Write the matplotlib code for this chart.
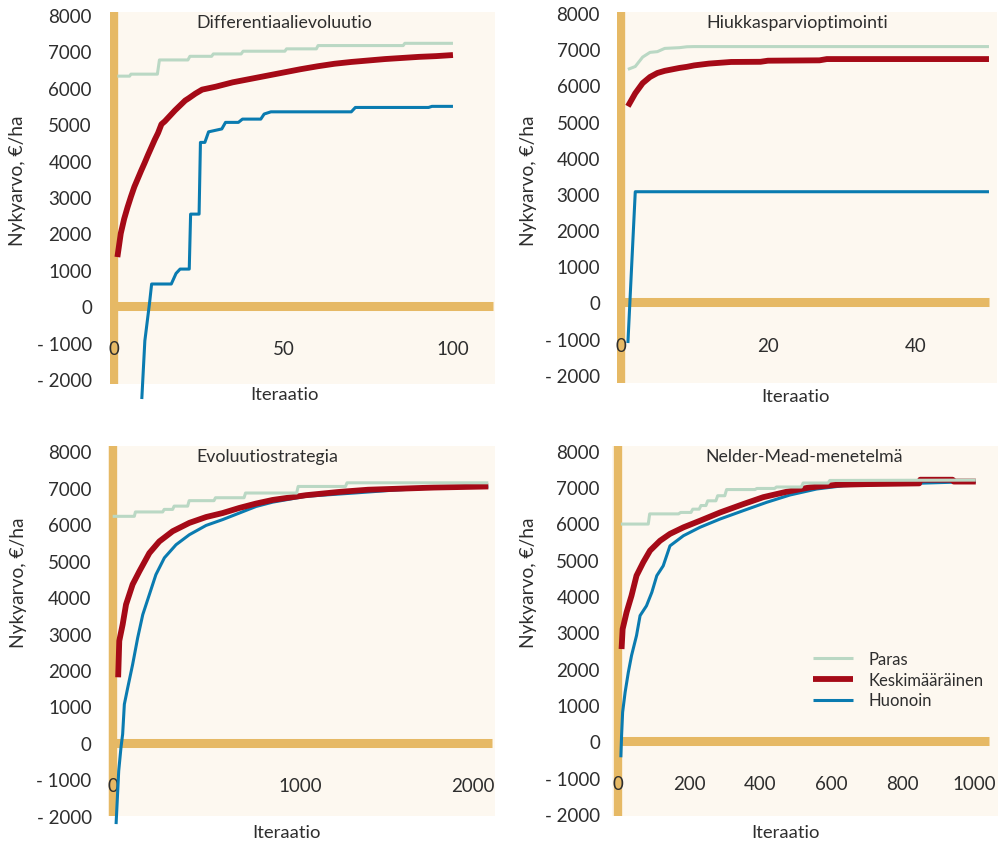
import matplotlib
matplotlib.use("Agg")
import matplotlib.pyplot as plt
import matplotlib.transforms as mtransforms

# ---------------- data ----------------
series_names = ["Paras", "Keskimääräinen", "Huonoin"]
panel_titles = ["Differentiaalievoluutio", "Hiukkasparvioptimointi",
                "Evoluutiostrategia", "Nelder-Mead-menetelmä"]
y_ticks = [-2000, -1000, 0, 1000, 2000, 3000, 4000, 5000, 6000, 7000, 8000]
y_ticklabels = ["- 2000", "- 1000", "0", "1000", "2000", "3000", "4000",
                "5000", "6000", "7000", "8000"]
x_ticks = [[0, 50, 100], [0, 20, 40], [0, 1000, 2000], [0, 200, 400, 600, 800, 1000]]

# Differentiaalievoluutio
de_best_x = [1, 4.6, 5, 12.8, 13.4, 21.8, 22.4, 28.8, 29.3, 37.5, 38.1, 50.4, 50.9, 59.7, 60.2, 85.3, 85.8, 100]
de_best_y = [6320, 6320, 6375, 6375, 6765, 6765, 6865, 6865, 6930, 6930, 7005, 7005, 7070, 7070, 7160, 7160, 7222, 7222]
de_mean_x = [1, 2, 3, 4, 5, 6, 7, 8, 9, 10, 11, 12, 13, 14, 15, 16, 18, 20, 21, 22, 24, 26, 28, 30,
             35, 40, 45, 50, 55, 60, 65, 70, 75, 80, 85, 90, 95, 100]
de_mean_y = [1350, 2000, 2400, 2720, 3010, 3280, 3500, 3720, 3930, 4150, 4360, 4570, 4760, 5000, 5080,
             5180, 5380, 5560, 5650, 5710, 5840, 5950, 5990, 6030, 6150, 6240, 6330, 6420, 6510,
             6590, 6660, 6710, 6750, 6790, 6820, 6850, 6870, 6900]
de_worst_x = [8.2, 9.1, 10.5, 11.1, 16.9, 18.3, 19.5, 22.2, 22.6, 25.1, 25.5, 26.8, 27.9, 31.8, 32.9,
              36.7, 37.9, 43.3, 44.3, 46.3, 70, 71.2, 92.8, 93.8, 100]
de_worst_y = [-2550, -950, 100, 610, 610, 900, 1020, 1020, 2530, 2530, 4500, 4500, 4790, 4870, 5050,
              5050, 5140, 5140, 5280, 5340, 5340, 5460, 5460, 5490, 5490]

# Hiukkasparvioptimointi
pso_best_x = [1, 2, 3, 4, 5, 6, 7, 8, 9, 10, 50]
pso_best_y = [6440, 6520, 6780, 6910, 6930, 7020, 7030, 7040, 7065, 7070, 7070]
pso_mean_x = [1, 2, 3, 4, 5, 6, 7, 8, 9, 10, 11, 12, 13, 14, 15, 19, 20, 27, 28, 50]
pso_mean_y = [5420, 5780, 6060, 6230, 6340, 6400, 6440, 6480, 6510, 6550, 6575, 6600, 6615, 6630,
              6645, 6650, 6680, 6690, 6725, 6725]
pso_worst_x = [1, 2, 50]
pso_worst_y = [-1120, 3060, 3060]

# Evoluutiostrategia
es_best_x = [1, 116, 122, 267, 275, 320, 328, 400, 408, 540, 548, 700, 708, 980, 988, 1240, 1248, 2000]
es_best_y = [6220, 6220, 6340, 6340, 6410, 6410, 6500, 6500, 6650, 6650, 6730, 6730, 6860, 6860,
             7040, 7040, 7140, 7140]
es_mean_x = [30, 36, 54, 72, 107, 143, 196, 249, 320, 409, 498, 586, 675, 764, 853, 1030, 1207,
             1360, 1710, 2000]
es_mean_y = [1800, 2800, 3250, 3800, 4350, 4710, 5210, 5530, 5810, 6040, 6200, 6310, 6450, 6570,
             6670, 6800, 6890, 6950, 7010, 7040]
es_worst_x = [19, 33, 45, 54, 63, 81, 107, 134, 161, 196, 231, 276, 338, 409, 498, 586, 675, 764,
              853, 1030, 1287, 1500, 1714, 2000]
es_worst_y = [-2230, -770, -130, 240, 1060, 1515, 2150, 2885, 3520, 4070, 4620, 5080, 5440, 5715,
              5970, 6130, 6310, 6490, 6610, 6770, 6860, 6940, 7000, 7030]

# Nelder-Mead-menetelmä
nm_best_x = [8, 85, 89, 170, 176, 205, 210, 228, 233, 247, 252, 275, 280, 300, 305, 385, 390, 440,
             445, 515, 520, 590, 595, 1005]
nm_best_y = [5980, 5980, 6260, 6260, 6300, 6300, 6390, 6390, 6490, 6490, 6620, 6620, 6760, 6760,
             6930, 6930, 6960, 6960, 7000, 7000, 7110, 7110, 7180, 7190]
nm_mean_x = [10, 13, 24, 38, 52, 71, 90, 118, 146, 184, 230, 287, 352, 408, 474, 539, 614, 700,
             846, 849, 940, 943, 1005]
nm_mean_y = [2540, 3090, 3550, 4010, 4560, 4930, 5250, 5520, 5710, 5890, 6070, 6300, 6530, 6720,
             6870, 6990, 7060, 7080, 7100, 7200, 7200, 7150, 7150]
nm_worst_x = [8, 10, 13, 20, 29, 38, 52, 62, 80, 95, 109, 127, 146, 184, 230, 287, 352, 418, 483,
              558, 633, 764, 900, 1005]
nm_worst_y = [-440, 150, 800, 1350, 1900, 2360, 2910, 3460, 3730, 4100, 4560, 4830, 5380, 5660,
              5890, 6120, 6350, 6580, 6780, 6945, 7035, 7080, 7120, 7150]

panels = [
    [(de_best_x, de_best_y), (de_mean_x, de_mean_y), (de_worst_x, de_worst_y)],
    [(pso_best_x, pso_best_y), (pso_mean_x, pso_mean_y), (pso_worst_x, pso_worst_y)],
    [(es_best_x, es_best_y), (es_mean_x, es_mean_y), (es_worst_x, es_worst_y)],
    [(nm_best_x, nm_best_y), (nm_mean_x, nm_mean_y), (nm_worst_x, nm_worst_y)],
]

# ---------------- style ----------------
plt.rcParams['font.family'] = ['Lato', 'DejaVu Sans']
TXT = "#2e2e2e"
ORANGE = "#E6B965"
BG = "#FDF8F0"
COLORS = ["#BAD8C4", "#A50A17", "#0A7BB0"]
WIDTHS = [2.2, 4.2, 2.2]
ZORDERS = [5, 4, 3]

W, H = 999, 845
fig = plt.figure(figsize=(W / 100, H / 100), dpi=100)
fig.patch.set_facecolor("white")

# pixel boxes: left, right, top, bottom
boxes = [(110, 495, 13.3, 385), (616.7, 997, 13.3, 384),
         (108.3, 495, 446.7, 816.7), (611.7, 998, 446.7, 817.3)]
xlims = [(-1.18, 112.4), (-0.52, 51.09), (-22.4, 2035.6), (-17.7, 1067.4)]
ylims = [(-2137, 8074), (-2224, 8017), (-1978, 8159), (-2064, 8137)]
hbar_end = [111.8, 50, 2020, 1042]
ypads = [13.0, 12.0, 12.0, 8.5]
title_pos = [(0.452, 0.974), (0.474, 0.974), (0.410, 0.972), (0.499, 0.972)]
ylab_pos = [(-0.239, 0.549), (-0.232, 0.548), (-0.233, 0.633), (-0.216, 0.634)]
xlab_pos = [(0.452, -0.027), (0.470, -0.035), (0.462, -0.044), (0.449, -0.042)]

axes = []
for i in range(4):
    l, r, t, b = boxes[i]
    ax = fig.add_axes([l / W, 1 - b / H, (r - l) / W, (b - t) / H])
    axes.append(ax)
    ax.set_facecolor(BG)
    ax.set_xlim(*xlims[i])
    ax.set_ylim(*ylims[i])
    for s in ax.spines.values():
        s.set_visible(False)
    ax.spines['bottom'].set_position(('data', 0))

    # thick axis bars
    ax.axvline(0, color=ORANGE, lw=6, solid_capstyle='butt', zorder=1)
    ax.hlines(0, 0, hbar_end[i], color=ORANGE, lw=6.5, zorder=1)

    for (xs, ys), c, lw, z, name in zip(panels[i], COLORS, WIDTHS, ZORDERS, series_names):
        ax.plot(xs, ys, color=c, lw=lw, label=name, zorder=z, clip_on=False,
                solid_joinstyle='round', solid_capstyle='butt')

    ax.set_yticks(y_ticks)
    ax.set_yticklabels(y_ticklabels)
    ax.set_xticks(x_ticks[i])
    ax.set_xticklabels([str(v) for v in x_ticks[i]])
    ax.tick_params(axis='y', length=0, pad=ypads[i], labelsize=13.5, labelcolor=TXT)
    ax.tick_params(axis='x', length=0, pad=24.5, labelsize=13.5, labelcolor=TXT)

    ax.text(title_pos[i][0], title_pos[i][1], panel_titles[i], transform=ax.transAxes,
            ha='center', va='center', fontsize=12.8, color=TXT, zorder=6)
    ax.set_ylabel("Nykyarvo, €/ha", fontsize=13.8, color=TXT)
    ax.yaxis.set_label_coords(*ylab_pos[i])
    ax.yaxis.label.set_verticalalignment('center')
    ax.set_xlabel("Iteraatio", fontsize=13.3, color=TXT)
    ax.xaxis.set_label_coords(*xlab_pos[i])
    ax.xaxis.label.set_verticalalignment('center')

# shift the last label of panel 3 left, as in the reference
lab = axes[2].get_xticklabels()[-1]
lab.set_transform(lab.get_transform() + mtransforms.ScaledTranslation(-15 / 100, 0, fig.dpi_scale_trans))

# legend (order of handles as drawn: Paras, Keskimääräinen, Huonoin)
handles, labels = axes[3].get_legend_handles_labels()
leg = axes[3].legend(handles, labels, loc='upper left', bbox_to_anchor=(813 / W, 1 - 652 / H),
                     bbox_transform=fig.transFigure, frameon=False, fontsize=12,
                     handlelength=2.4, handletextpad=0.9, labelspacing=0.28,
                     borderpad=0, borderaxespad=0)
for t in leg.get_texts():
    t.set_color(TXT)

fig.savefig("out.png", dpi=100, facecolor="white")
